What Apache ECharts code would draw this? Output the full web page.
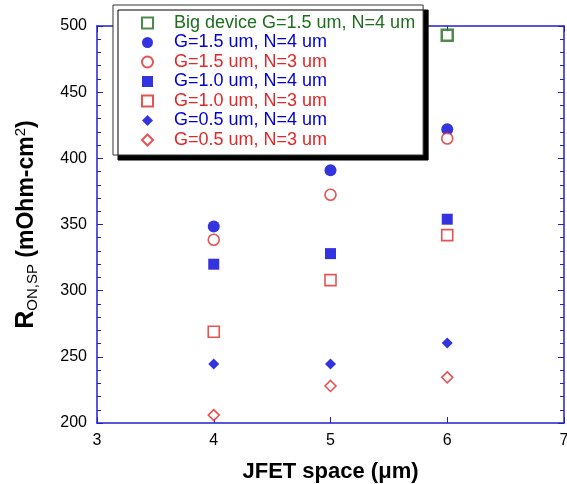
<!DOCTYPE html>
<html>
<head>
<meta charset="utf-8">
<script src="https://cdn.jsdelivr.net/npm/echarts@6/dist/echarts.min.js"></script>
<style>
html, body { margin: 0; padding: 0; background: #fff; overflow: hidden; }
#chart { width: 567px; height: 484px; }
</style>
</head>
<body>
<div id="chart"></div>
<script>
// JFET space (um)
var jfetSpace = [4, 5, 6];

var seriesNames = [
    'Big device G=1.5 um, N=4 um',
    'G=1.5 um, N=4 um',
    'G=1.5 um, N=3 um',
    'G=1.0 um, N=4 um',
    'G=1.0 um, N=3 um',
    'G=0.5 um, N=4 um',
    'G=0.5 um, N=3 um'
];

// R_on,sp values (mOhm-cm2)
var bigG15N4 = [null, null, 493];
var g15N4 = [348.5, 391, 422];
var g15N3 = [338.5, 372.5, 415];
var g10N4 = [320, 328, 354];
var g10N3 = [269, 308, 342];
var g05N4 = [244.5, 244.5, 260.5];
var g05N3 = [206, 228, 234.5];

var xTicks = [3, 4, 5, 6, 7];
var yTicks = [200, 250, 300, 350, 400, 450, 500];

var blue = '#0000d8';
var red = '#e02828';
var green = '#1e6e1e';
var axisBlue = '#2020cc';
var font = 'Arial, Liberation Sans';

var myChart = echarts.init(document.getElementById('chart'));

function pairs(vals) {
    var out = [];
    for (var i = 0; i < jfetSpace.length; i++) {
        if (vals[i] != null) out.push([jfetSpace[i], vals[i]]);
    }
    return out;
}

function sc(name, vals, symbol, size, color, hollow) {
    return {
        name: name,
        type: 'scatter',
        data: pairs(vals),
        symbol: symbol,
        symbolSize: size,
        itemStyle: hollow ? {
            color: '#fff',
            borderColor: color,
            borderWidth: 1.6
        } : {
            color: color
        }
    };
}

var legendColors = [green, blue, red, blue, red, blue, red];

var axisCommon = {
    type: 'value',
    axisLine: { show: true, onZero: false, lineStyle: { color: axisBlue, width: 1.5 } },
    splitLine: { show: false },
    axisTick: { show: true, inside: true, length: 6, lineStyle: { color: axisBlue } }
};

option = {
    backgroundColor: '#fff',
    animation: false,
    grid: { left: 97, right: 3, top: 26, bottom: 61, containLabel: false, outerBoundsMode: 'none' },
    legend: {
        orient: 'vertical',
        left: 113,
        top: 5,
        padding: [9, 8, 6, 28],
        itemGap: 1.5,
        itemWidth: 11,
        itemHeight: 11,
        backgroundColor: '#fff',
        borderColor: '#333',
        borderWidth: 1,
        shadowColor: '#000',
        shadowBlur: 0,
        shadowOffsetX: 5,
        shadowOffsetY: 5,
        data: seriesNames.map(function (n, i) {
            return { name: n, textStyle: { color: legendColors[i] } };
        }),
        textStyle: {
            fontFamily: font,
            fontSize: 18,
            lineHeight: 18,
            padding: [0, 0, 0, 16]
        }
    },
    xAxis: [
        Object.assign({}, axisCommon, {
            min: xTicks[0], max: xTicks[xTicks.length - 1], interval: 1,
            position: 'bottom',
            name: 'JFET space (\u03bcm)',
            nameLocation: 'middle',
            nameGap: 38,
            nameTextStyle: { fontFamily: font, fontSize: 22, fontWeight: 'bold', color: '#000' },
            axisLabel: { color: '#000', fontFamily: font, fontSize: 16, margin: 10 }
        }),
        Object.assign({}, axisCommon, {
            min: xTicks[0], max: xTicks[xTicks.length - 1], interval: 1,
            position: 'top',
            axisLabel: { show: false }
        })
    ],
    yAxis: [
        Object.assign({}, axisCommon, {
            min: yTicks[0], max: yTicks[yTicks.length - 1], interval: 50,
            position: 'left',
            minorTick: { show: true, splitNumber: 5, length: 4, lineStyle: { color: axisBlue } },
            name: '{r|R}{sub|ON,SP}{n| (mOhm-cm}{sup|2}{n|)}',
            nameLocation: 'middle',
            nameGap: 57,
            nameTextStyle: {
                color: '#000',
                fontFamily: font,
                rich: {
                    r: { fontSize: 25, fontWeight: 'bold', fontFamily: font, color: '#000' },
                    sub: { fontSize: 15, verticalAlign: 'bottom', padding: [10, 0, 0, 0], fontFamily: font, color: '#000' },
                    n: { fontSize: 23, fontWeight: 'bold', fontFamily: font, color: '#000' },
                    sup: { fontSize: 15, verticalAlign: 'top', padding: [0, 0, 12, 0], fontFamily: font, color: '#000' }
                }
            },
            axisLabel: { color: '#000', fontFamily: font, fontSize: 16, margin: 10 }
        }),
        Object.assign({}, axisCommon, {
            min: yTicks[0], max: yTicks[yTicks.length - 1], interval: 50,
            position: 'right',
            minorTick: { show: true, splitNumber: 5, length: 4, lineStyle: { color: axisBlue } },
            axisLabel: { show: false }
        })
    ],
    series: [
        sc(seriesNames[0], bigG15N4, 'rect', 11, green, true),
        sc(seriesNames[1], g15N4, 'circle', 12, blue, false),
        sc(seriesNames[2], g15N3, 'circle', 11, red, true),
        sc(seriesNames[3], g10N4, 'rect', 11, blue, false),
        sc(seriesNames[4], g10N3, 'rect', 11, red, true),
        sc(seriesNames[5], g05N4, 'diamond', 11, blue, false),
        sc(seriesNames[6], g05N3, 'diamond', 11, red, true)
    ]
};

option.series[0].itemStyle.borderWidth = 2.5;

myChart.setOption(option);
</script>
</body>
</html>
